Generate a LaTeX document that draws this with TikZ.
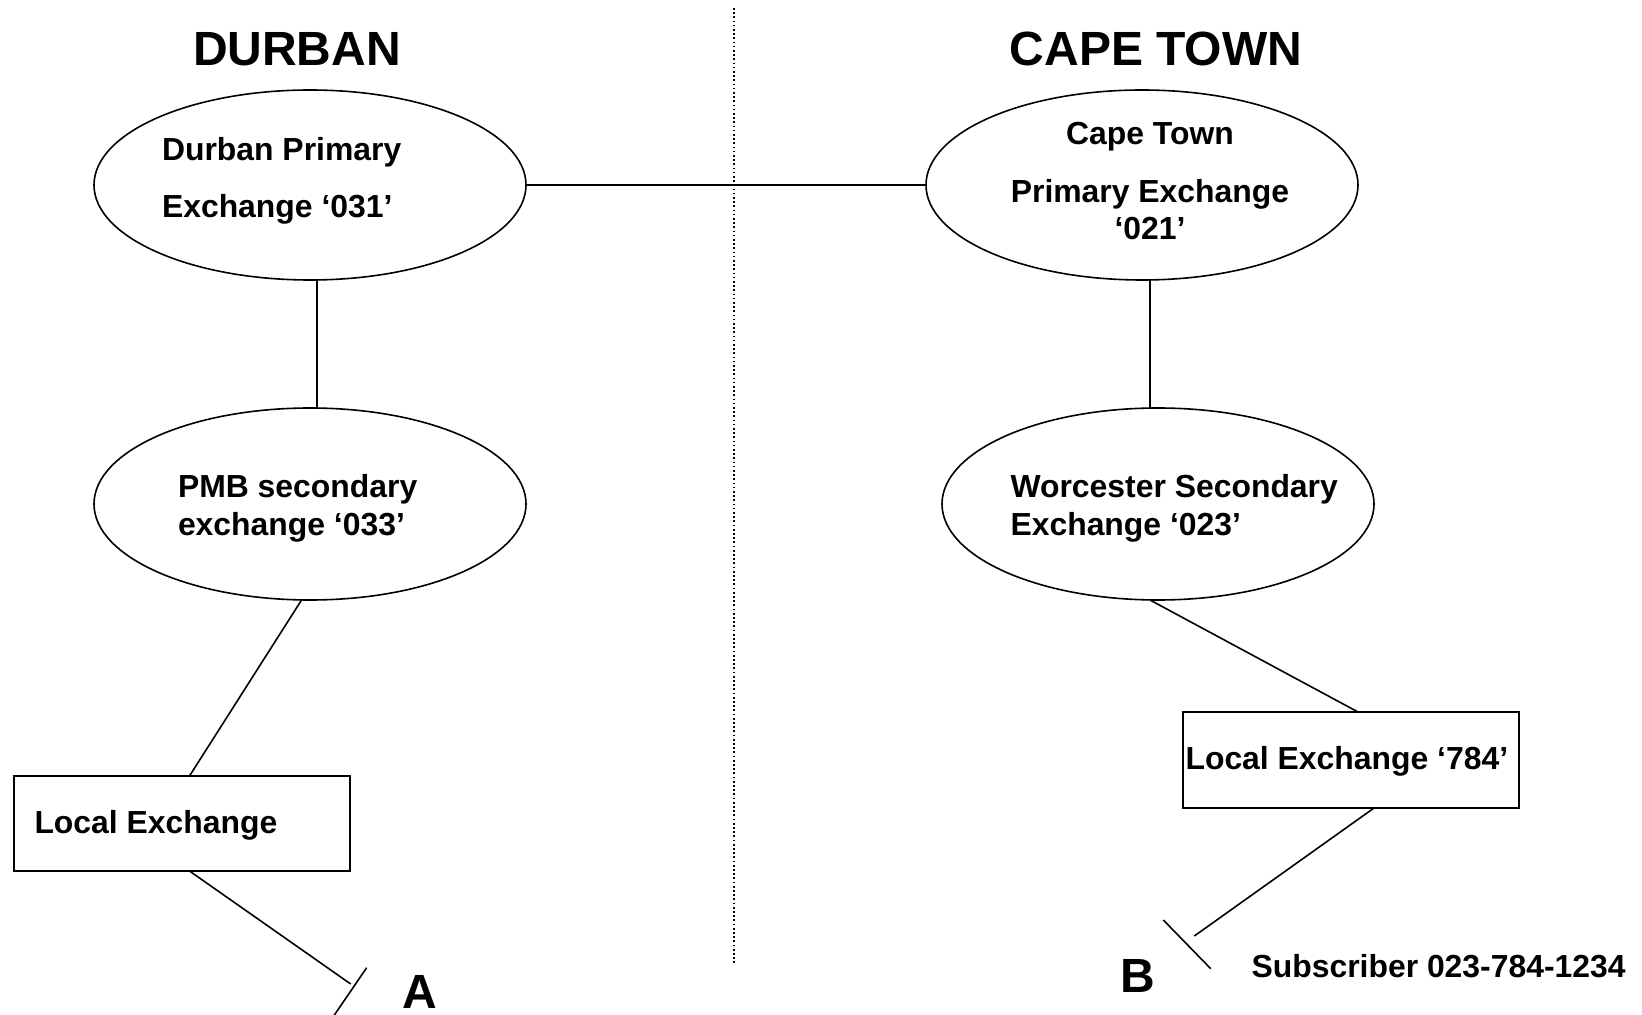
\documentclass[tikz,border=0pt]{standalone}
\usepackage{fontspec}
\setmainfont{Liberation Sans}
\usetikzlibrary{shapes.geometric,calc}
\begin{document}
\begin{tikzpicture}[x=0.5pt,y=-0.5pt,
  line width=0.8pt,
  exch/.style={draw,ellipse,inner sep=0pt,outer sep=0pt,minimum width=216pt},
  box/.style={draw,rectangle,inner sep=0pt,outer sep=0pt},
  txt/.style={inner sep=0pt,outer sep=0pt,anchor=base west,font=\bfseries\fontsize{15.95}{18}\selectfont},
  ctxt/.style={txt,anchor=base},
  title/.style={inner sep=0pt,outer sep=0pt,anchor=base,font=\bfseries\fontsize{24}{28}\selectfont},
  letter/.style={inner sep=0pt,outer sep=0pt,anchor=base west,font=\bfseries\fontsize{24}{28}\selectfont},
  tick/.style={line width=0.8pt},
  divider/.style={line width=0.85pt,dash pattern=on 0.85pt off 1.25pt}]
\useasboundingbox (0,0) rectangle (1642,1015);

% dividing line between the two regions
\coordinate (divtop) at (734,8);
\coordinate (divbot) at (734,964);
\draw[divider] (divtop) -- (divbot);

% region headings
\node[title] (tdurban) at (297,66) {DURBAN};
\node[title] (tcape) at (1156,66) {CAPE TOWN};

% exchanges
\node[exch,minimum height=95pt] (dp) at (310,185) {};
\node[exch,minimum height=95pt] (cp) at (1142,185) {};
\node[exch,minimum height=96pt] (pmb) at (310,504) {};
\node[exch,minimum height=96pt] (wo) at (1158,504) {};
\node[box,minimum width=168pt,minimum height=47.5pt] (le1) at (182,823.5) {};
\node[box,minimum width=168pt,minimum height=48pt] (le2) at (1351,760) {};

% exchange labels
\node[txt] (dpa) at (162,161) {Durban Primary};
\node[txt] (dpb) at (162,218) {Exchange ‘031’};
\node[ctxt] (cpa) at (1150,145) {Cape Town};
\node[ctxt] (cpb) at (1150,202.6) {Primary Exchange};
\node[ctxt] (cpc) at (1150,240) {‘021’};
\node[txt] (pmba) at (178,497) {PMB secondary};
\node[txt] (pmbb) at (178,535.6) {exchange ‘033’};
\node[txt] (woa) at (1010.5,497) {Worcester Secondary};
\node[txt] (wob) at (1010.5,535.6) {Exchange ‘023’};
\node[txt] (le1t) at (34.5,833) {Local Exchange};
\node[txt] (le2t) at (1185.5,769) {Local Exchange ‘784’};

% subscribers
\node[letter] (la) at (402,1008) {A};
\node[letter] (lb) at (1120.5,992) {B};
\node[txt] (sub) at (1251.5,977) {Subscriber 023-784-1234};

% trunk links
\draw (dp.east) -- (cp.west);
\draw ($(dp.south)+(7,0)$) -- ($(pmb.north)+(7,0)$);
\draw ($(cp.south)+(8,0)$) -- ($(wo.north)+(-8,0)$);
\draw (pmb.265) -- ($(le1.north)+(7.5,0)$);
\draw ($(wo.south)+(-8,0)$) -- ($(le2.north)+(7,0)$);

% subscriber lines and terminations
\coordinate (aend) at (350.7,984);
\coordinate (ataa) at (366.7,967.7);
\coordinate (atab) at (333,1017);
\draw ($(le1.south)+(7.5,0)$) -- (aend);
\draw[tick] (ataa) -- (atab);

\coordinate (bend) at (1194.3,936);
\coordinate (btba) at (1163.3,920);
\coordinate (btbb) at (1210.7,968.7);
\draw ($(le2.south)+(23,0)$) -- (bend);
\draw[tick] (btba) -- (btbb);
\end{tikzpicture}
\end{document}
